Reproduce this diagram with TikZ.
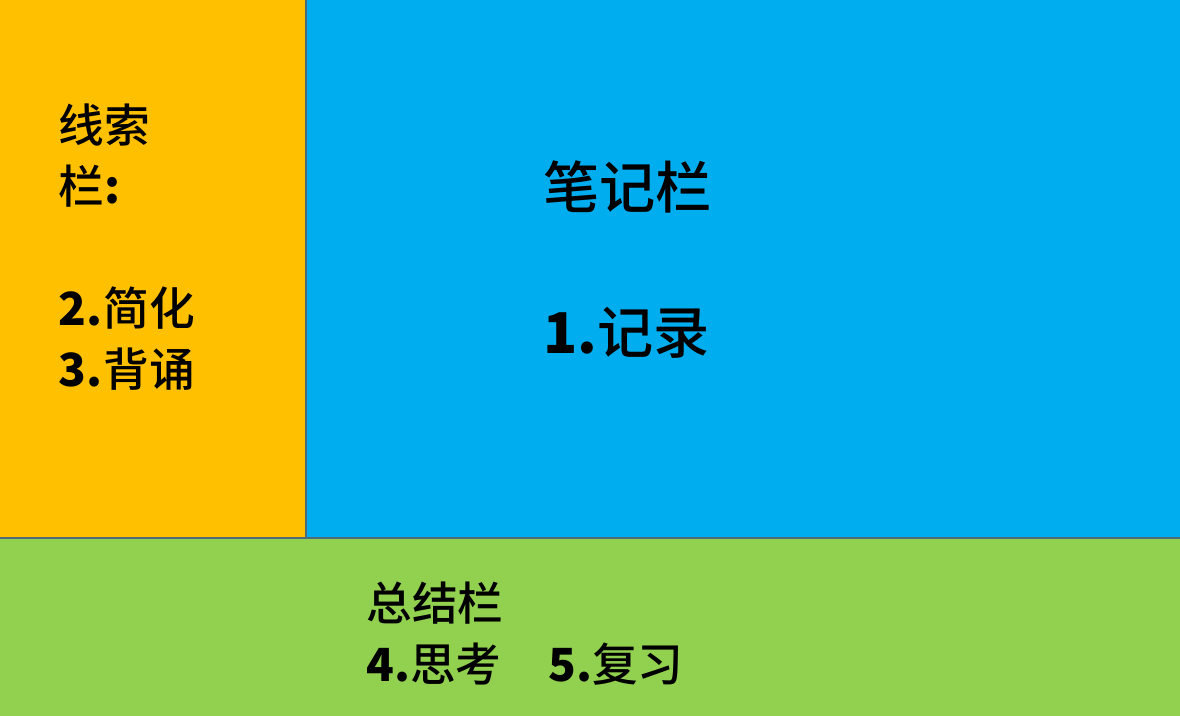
\documentclass[tikz,border=0pt]{standalone}
\usepackage{fontspec}
\setmainfont{Noto Sans CJK SC}[UprightFont={* Medium}]
\definecolor{clueorange}{HTML}{FFC000}
\definecolor{noteblue}{HTML}{00ADEF}
\definecolor{sumgreen}{HTML}{92D050}
\definecolor{edgegray}{HTML}{4F6B78}
\tikzset{
    px/.style={x=0.02cm, y=-0.02cm},
    label/.style={anchor=west, inner sep=0pt, font=\fontsize{26}{30}\selectfont},
    biglabel/.style={anchor=west, inner sep=0pt, font=\fontsize{32}{36}\selectfont},
}

\begin{document}
\begin{tikzpicture}[px]
            \useasboundingbox (0,0) rectangle (1180,716);
            % three areas of the page
            \fill[clueorange] (0,0) rectangle (306,538);
            \fill[noteblue] (306,0) rectangle (1180,538);
            \fill[sumgreen] (0,538) rectangle (1180,716);
            \draw[edgegray, line width=1.2pt] (306,0)--(306,538);
            \draw[edgegray, line width=1.2pt] (0,538)--(1180,538);
            % clue column
            \node[label] (clue) at (58,125) {线索};
            \node[label] (cluebar) at (58,186) {栏\textbf{:}};
            \node[label] (simplify) at (58,308) {\textbf{2.}\hspace{1pt}简化};
            \node[label] (recite) at (58,369) {\textbf{3.}\hspace{1pt}背诵};
            % note column
            \node[biglabel] (note) at (543,187) {笔记栏};
            \node[biglabel] (record) at (543,333) {\textbf{1.}\hspace{0pt}记录};
            % summary row
            \node[label] (summary) at (366,603) {总结栏};
            \node[label] (think) at (366,664) {\textbf{4.}思考};
            \node[label] (review) at (548,664) {\textbf{5.}复习};
        \end{tikzpicture}
\end{document}
